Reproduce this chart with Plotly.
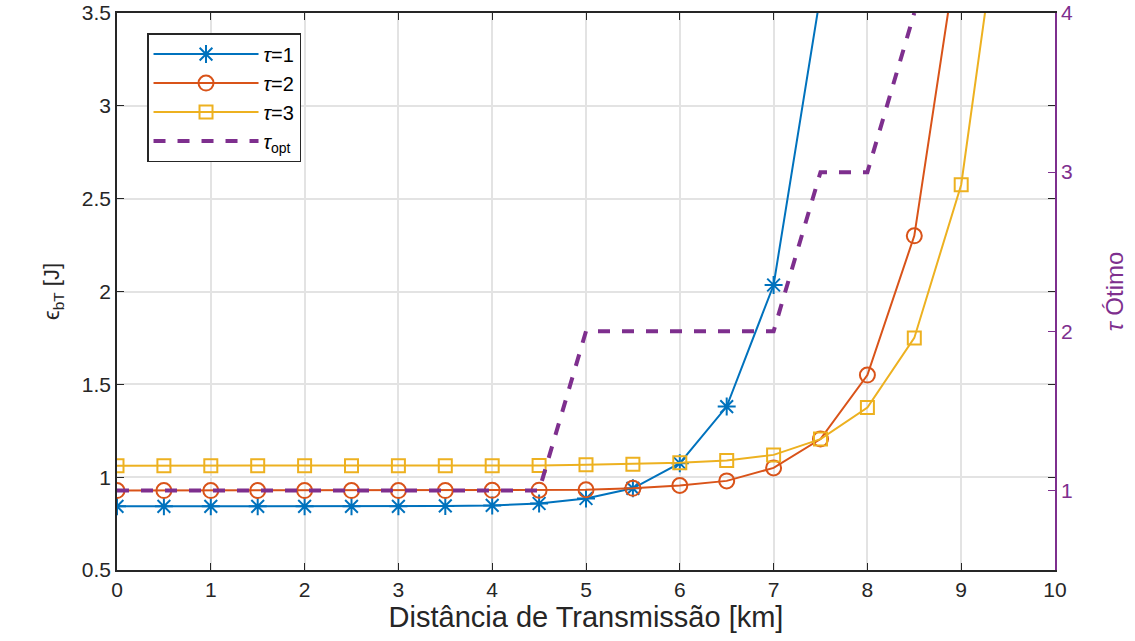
import plotly.graph_objects as go

x = [0, 0.5, 1, 1.5, 2, 2.5, 3, 3.5, 4, 4.5, 5, 5.5, 6, 6.5, 7, 7.5, 8, 8.5, 9, 9.5, 10]
tau1 = [0.843, 0.843, 0.843, 0.843, 0.843, 0.843, 0.843, 0.845, 0.848, 0.858, 0.885, 0.94, 1.075, 1.38, 2.035, 3.6]
tau2 = [0.928, 0.928, 0.928, 0.928, 0.928, 0.928, 0.928, 0.928, 0.929, 0.93, 0.932, 0.94, 0.955, 0.98, 1.05, 1.205, 1.55, 2.3, 3.97]
tau3 = [1.062, 1.062, 1.062, 1.062, 1.062, 1.062, 1.062, 1.062, 1.062, 1.063, 1.067, 1.07, 1.077, 1.09, 1.12, 1.205, 1.375, 1.75, 2.575, 4.4]
tau_opt = [1, 1, 1, 1, 1, 1, 1, 1, 1, 1, 2, 2, 2, 2, 2, 3, 3, 4]

xticks = [0, 1, 2, 3, 4, 5, 6, 7, 8, 9, 10]
yticks = [0.5, 1, 1.5, 2, 2.5, 3, 3.5]
yticklabels = ["0.5", "1", "1.5", "2", "2.5", "3", "3.5"]
y2ticks = [1, 2, 3, 4]

c1, c2, c3, c4 = "#0072BD", "#D95319", "#EDB120", "#7E2F8E"
font = "Liberation Sans, Arial, sans-serif"
tickfont = dict(family=font, size=21, color="#262626")

fig = go.Figure()
fig.add_trace(go.Scatter(x=x[:len(tau1)], y=tau1, mode="lines+markers", name="<i>τ</i>=1",
                         line=dict(color=c1, width=2),
                         marker=dict(symbol="asterisk-open", size=15, color=c1, line=dict(width=2, color=c1))))
fig.add_trace(go.Scatter(x=x[:len(tau2)], y=tau2, mode="lines+markers", name="<i>τ</i>=2",
                         line=dict(color=c2, width=2),
                         marker=dict(symbol="circle-open", size=15, color=c2, line=dict(width=2, color=c2))))
fig.add_trace(go.Scatter(x=x[:len(tau3)], y=tau3, mode="lines+markers", name="<i>τ</i>=3",
                         line=dict(color=c3, width=2),
                         marker=dict(symbol="square-open", size=13, color=c3, line=dict(width=2, color=c3))))
fig.add_trace(go.Scatter(x=x[:len(tau_opt)], y=tau_opt, mode="lines", name="<i>τ</i><sub>opt</sub>",
                         yaxis="y2", line=dict(color=c4, width=4, dash="dash")))

fig.update_layout(
    width=1135, height=641,
    margin=dict(l=117, r=80, t=13, b=71),
    paper_bgcolor="white", plot_bgcolor="white",
    font=dict(family=font, size=20, color="#262626"),
    showlegend=True,
    legend=dict(x=0.032, y=0.964, xanchor="left", yanchor="top",
                bgcolor="white", bordercolor="#262626", borderwidth=1.5,
                font=dict(size=20, color="#000000"), itemwidth=105, tracegroupgap=0),
    xaxis=dict(range=[0, 10], tickvals=xticks, showgrid=True, gridcolor="#e3e3e3", gridwidth=1.5,
               showline=True, linecolor="#262626", linewidth=1.5, mirror="ticks", automargin=False,
               ticks="inside", ticklen=7, tickcolor="#262626", zeroline=False, tickfont=tickfont,
               title=dict(text="Distância de Transmissão [km]", font=dict(size=29), standoff=7)),
    yaxis=dict(range=[0.5, 3.5], tickvals=yticks, ticktext=yticklabels, showgrid=True,
               gridcolor="#e3e3e3", gridwidth=1.5, automargin=False, tickfont=tickfont,
               showline=True, linecolor="#262626", linewidth=1.5, mirror="ticks",
               ticks="inside", ticklen=7, tickcolor="#262626", zeroline=False,
               title=dict(text="ϵ<sub>bT</sub> [J]", font=dict(size=22), standoff=16)),
    yaxis2=dict(range=[0.5, 4], tickvals=y2ticks, overlaying="y", side="right", showgrid=False,
                showline=True, linecolor=c4, linewidth=1.5, ticks="inside", ticklen=7, tickcolor=c4,
                tickfont=dict(family=font, size=21, color=c4), zeroline=False, automargin=False,
                title=dict(text="<i>τ</i> Ótimo", font=dict(size=24, color=c4), standoff=34)),
)

fig.write_html("out.html")
